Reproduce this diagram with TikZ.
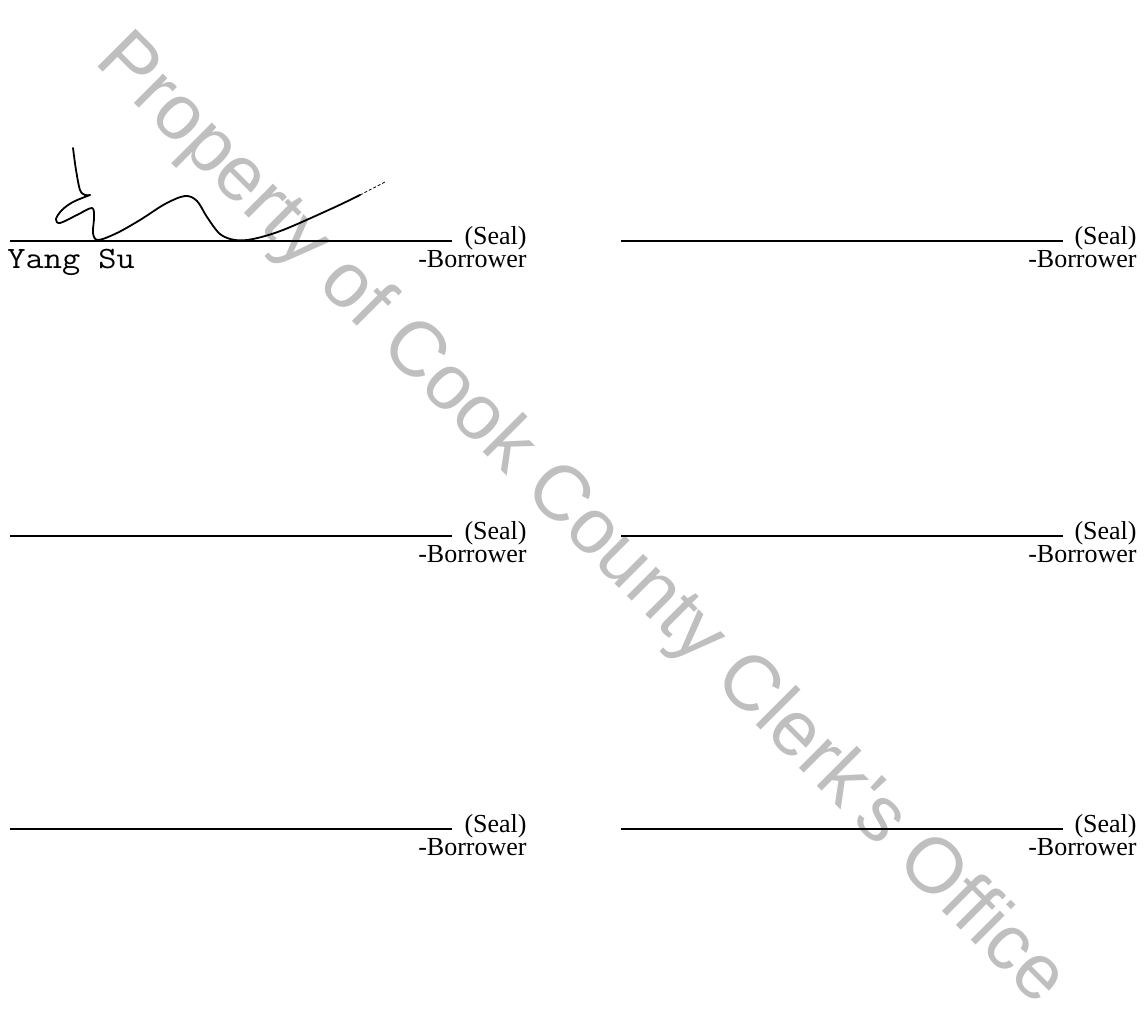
\documentclass[tikz,border=0pt]{standalone}
\usepackage{fontspec}
\setmainfont{Liberation Serif}
\newfontfamily\markfont{Liberation Sans}
\tikzset{
  seal/.style={anchor=base east,inner sep=0,font=\fontsize{26}{28}\selectfont},
  sigline/.style={line width=2},
}
\begin{document}
\begin{tikzpicture}[x=1pt,y=-1pt,thick]
\useasboundingbox (0,0) rectangle (1144,1023);
% watermark
\node[anchor=base west,rotate=-45,inner sep=0,text=black!25,
  font=\markfont\fontsize{78}{80}\selectfont] (mark) at (93,62)
  {Property of Cook County Clerk's Office};
% signature lines
\foreach \y/\r in {241/1,536/2,829/3} {
  \draw[sigline] (10,\y) -- (452,\y);
  \draw[sigline] (621,\y) -- (1063,\y);
  \node[seal] (sealL\r) at (527,\y+3) {(Seal)};
  \node[seal] (borrL\r) at (527,\y+26) {-Borrower};
  \node[seal] (sealR\r) at (1137,\y+3) {(Seal)};
  \node[seal] (borrR\r) at (1137,\y+26) {-Borrower};
}
\node[anchor=base west,inner sep=0,xscale=1.14,
  font=\ttfamily\fontsize{31}{33}\selectfont] (name) at (7,268) {Yang Su};
% signature
\draw[line width=1.8,line join=round,line cap=round]
  plot[smooth,tension=0.5] coordinates {(73,148) (76,170) (80,190) (85,195) (90,195)};
\draw[line width=1.8,line join=round,line cap=round]
  plot[smooth,tension=0.55] coordinates {(90,195) (73,202) (62,210) (56,219) (60,223)
  (77,215) (92,208) (94,218) (93,233) (98,240) (117,233) (140,220) (165,204)
  (185,196) (197,201) (207,217) (220,234) (235,240) (253,239) (283,230) (333,208) (360,195)};
\draw[line width=0.8,dash pattern=on 3pt off 2pt] (360,195) -- (385,182);
\end{tikzpicture}
\end{document}
